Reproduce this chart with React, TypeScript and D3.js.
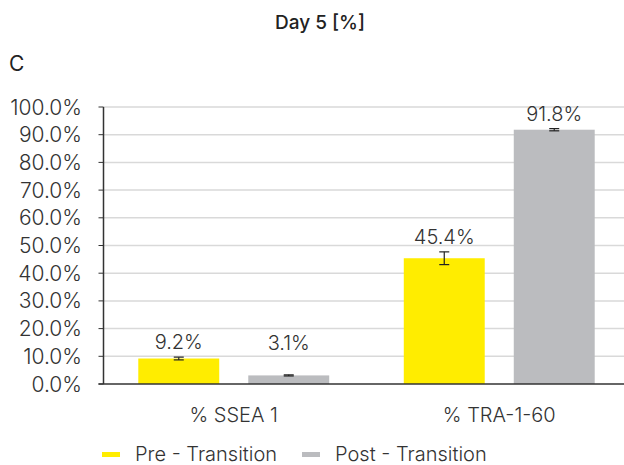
import React from "react";
import * as d3 from "d3";

const categories = ["% SSEA 1", "% TRA-1-60"];
const seriesNames = ["Pre - Transition", "Post - Transition"];
const preValues = [9.2, 45.4];
const postValues = [3.1, 91.8];
const preErrors = [0.5, 2.3];
const postErrors = [0.2, 0.4];
const yTicks = [0, 10, 20, 30, 40, 50, 60, 70, 80, 90, 100];
const colors = ["#FFED00", "#BBBCBF"];

const W = 624;
const H = 465;
const FONT = "Inter, 'Open Sans', sans-serif";

export default function App() {
  const x0 = d3.scaleBand<string>().domain(categories).range([101, 632]).paddingInner(0).paddingOuter(0);
  const x1 = d3
    .scaleBand<string>()
    .domain(seriesNames)
    .range([0, x0.bandwidth()])
    .paddingInner(0.264)
    .paddingOuter(0.339);
  const y = d3.scaleLinear().domain([0, 100]).range([384, 107]);
  const axisX = 103.5;

  const data = categories.map((c, i) => ({
    cat: c,
    vals: [
      { s: seriesNames[0], v: preValues[i], e: preErrors[i], color: colors[0] },
      { s: seriesNames[1], v: postValues[i], e: postErrors[i], color: colors[1] },
    ],
  }));

  return (
    <svg width={W} height={H} style={{ position: "absolute", left: 0, top: 0, background: "#fff" }}>
      <rect width={W} height={H} fill="#fff" />
      <text x={320} y={29} textAnchor="middle" fontFamily={FONT} fontSize={19} fontWeight={500} fill="#222">
        Day 5 [%]
      </text>
      <text x={9} y={71} fontFamily={FONT} fontSize={21} fill="#222">
        C
      </text>
      {yTicks.map((t) => (
        <g key={t}>
          {t > 0 && <line x1={axisX} x2={W} y1={y(t)} y2={y(t)} stroke="#d9d9d9" strokeWidth={1.5} />}
          <line x1={98.5} x2={axisX} y1={y(t)} y2={y(t)} stroke="#333" strokeWidth={1} />
          <text
            x={82}
            y={y(t)}
            dy="0.36em"
            textAnchor="end"
            fontFamily={FONT}
            fontSize={21}
            fontWeight={300}
            fill="#333"
          >
            {t.toFixed(1) + "%"}
          </text>
        </g>
      ))}
      {data.map((d) => (
        <g key={d.cat} transform={`translate(${x0(d.cat)},0)`}>
          {d.vals.map((b) => {
            const bx = x1(b.s)!;
            const bw = x1.bandwidth();
            const cx = bx + bw / 2;
            const top = y(b.v + b.e);
            const bot = y(b.v - b.e);
            const labelY = Math.min(top - 8, y(12.3));
            return (
              <g key={b.s}>
                <rect x={bx} y={y(b.v)} width={bw} height={y(0) - y(b.v)} fill={b.color} />
                <line x1={cx} x2={cx} y1={top} y2={bot} stroke="#222" strokeWidth={1.2} />
                <line x1={cx - 5} x2={cx + 5} y1={top} y2={top} stroke="#222" strokeWidth={1.2} />
                <line x1={cx - 5} x2={cx + 5} y1={bot} y2={bot} stroke="#222" strokeWidth={1.2} />
                <text
                  x={cx}
                  y={labelY}
                  textAnchor="middle"
                  fontFamily={FONT}
                  fontSize={20}
                  fontWeight={300}
                  fill="#333"
                >
                  {b.v.toFixed(1) + "%"}
                </text>
              </g>
            );
          })}
          <text
            x={x0.bandwidth() / 2}
            y={422}
            textAnchor="middle"
            fontFamily={FONT}
            fontSize={20}
            fontWeight={300}
            fill="#333"
          >
            {d.cat}
          </text>
        </g>
      ))}
      <line x1={axisX} x2={axisX} y1={y(100)} y2={y(0)} stroke="#333" strokeWidth={1.5} />
      <line x1={98.5} x2={W} y1={y(0)} y2={y(0)} stroke="#333" strokeWidth={1.5} />
      {seriesNames.map((s, i) => {
        const lx = [102, 302][i];
        return (
          <g key={s}>
            <rect x={lx} y={452} width={18} height={5} fill={colors[i]} />
            <text x={lx + 33} y={461} fontFamily={FONT} fontSize={20} fontWeight={300} fill="#333">
              {s}
            </text>
          </g>
        );
      })}
    </svg>
  );
}
